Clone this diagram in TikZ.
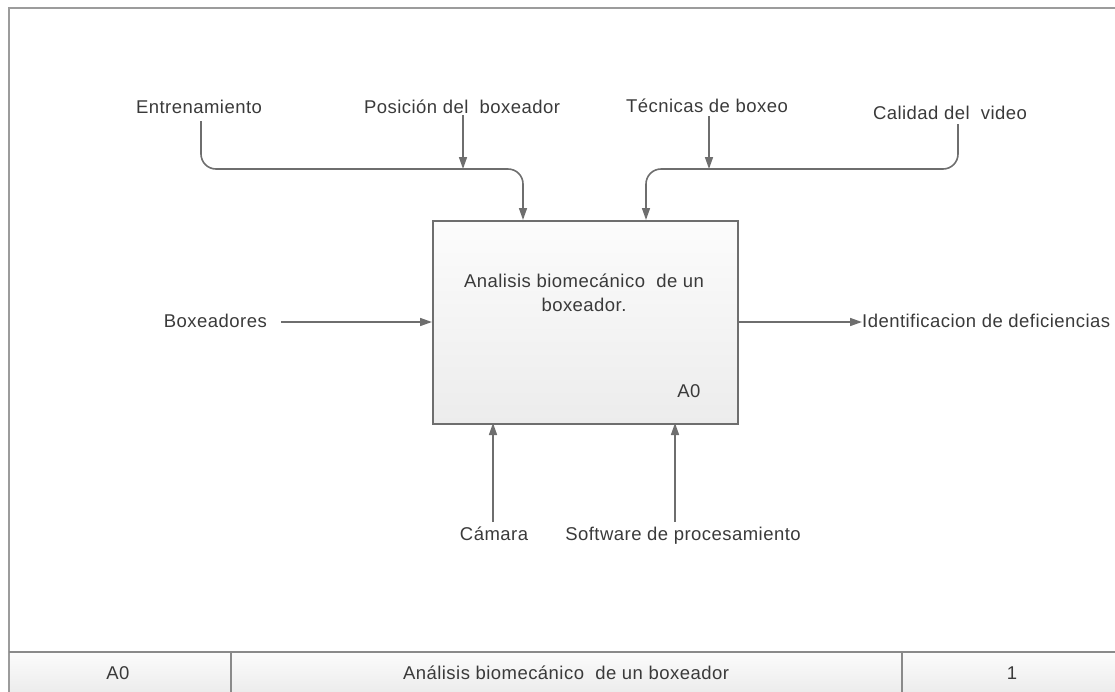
\documentclass[tikz,border=0pt]{standalone}
\usepackage{fontspec}
\setmainfont{Liberation Sans}[LetterSpace=2.5]
\usetikzlibrary{arrows.meta}
\definecolor{linegray}{HTML}{6E6E6E}
\definecolor{framegray}{HTML}{9C9C9C}
\definecolor{rowgray}{HTML}{8A8A8A}
\definecolor{txtgray}{HTML}{3A3A3A}
\definecolor{fillTop}{HTML}{FCFCFC}
\definecolor{fillBot}{HTML}{ECECEC}
\begin{document}
\begin{tikzpicture}[x=1pt,y=-1pt,
  lbl/.style={font=\fontsize{18.5}{22}\selectfont, text=txtgray, inner sep=0pt},
  flow/.style={draw=linegray, line width=1.6pt, -{Triangle[length=12pt,width=8pt]}},
  plain/.style={draw=linegray, line width=1.6pt},
  actbox/.style={draw=linegray, line width=1.8pt, top color=fillTop, bottom color=fillBot,
    minimum width=305pt, minimum height=203pt, inner sep=0pt, anchor=north west}
]
\useasboundingbox (0,0) rectangle (1115,691);

% bottom table row
\fill[top color=fillTop, bottom color=fillBot] (8.5,652) rectangle (1116,692);
\draw[framegray, line width=2pt] (8.5,692) -- (8.5,7.5) -- (1116,7.5);
\draw[rowgray, line width=2pt] (8.5,652) -- (1116,652);
\draw[rowgray, line width=1.5pt] (231,652) -- (231,692);
\draw[rowgray, line width=1.5pt] (902,652) -- (902,692);
\node[lbl, anchor=base] (tA) at (118,679) {A0};
\node[lbl, anchor=base] (tT) at (566,679) {Análisis biomecánico~ de un boxeador};
\node[lbl, anchor=base] (tN) at (1012,679) {1};

% activity box
\node[actbox] (box) at (432,220) {};
\node[lbl, anchor=base] (bt1) at (584,287) {Analisis biomecánico~ de un};
\node[lbl, anchor=base] (bt2) at (584,311) {boxeador.};
\node[lbl, anchor=base] (bid) at (689,397) {A0};

% connection points on the box
\coordinate (in1) at (523,220);
\coordinate (in2) at (646,220);
\coordinate (bus) at (0,169);
\coordinate (mech1) at (493,423);
\coordinate (mech2) at (675,423);

% control labels
\node[lbl, anchor=base] (ent) at (199,113) {Entrenamiento};
\node[lbl, anchor=base] (pos) at (462,113) {Posición del~ boxeador};
\node[lbl, anchor=base] (tec) at (707,112) {Técnicas de boxeo};
\node[lbl, anchor=base] (cal) at (950,119) {Calidad del~ video};
\coordinate (entS) at (201,121);
\coordinate (calS) at (958,124);

% controls
\draw[flow, rounded corners=15pt] (entS) |- (in1 |- bus) -- (in1);
\draw[flow, rounded corners=15pt] (calS) |- (in2 |- bus) -- (in2);
\draw[flow] ([yshift=-2pt]pos.south -| 463,0) -- (463,169);
\draw[flow] ([yshift=-4pt]tec.south -| 709,0) -- (709,169);

% input
\node[lbl, anchor=base east] (inp) at (267,327) {Boxeadores};
\draw[flow] (281,322) -- (box.west |- 0,322);

% output
\node[lbl, anchor=base west] (out) at (862,327) {Identificacion de deficiencias};
\draw[flow] (box.east |- 0,322) -- (out.west |- 0,322);

% mechanisms
\node[lbl, anchor=base] (cam) at (494,540) {Cámara};
\node[lbl, anchor=base] (sw) at (683,540) {Software de procesamiento};
\draw[flow] (mech1 |- 0,522) -- (mech1);
\draw[flow] (mech2 |- 0,522) -- (mech2);
\end{tikzpicture}
\end{document}
